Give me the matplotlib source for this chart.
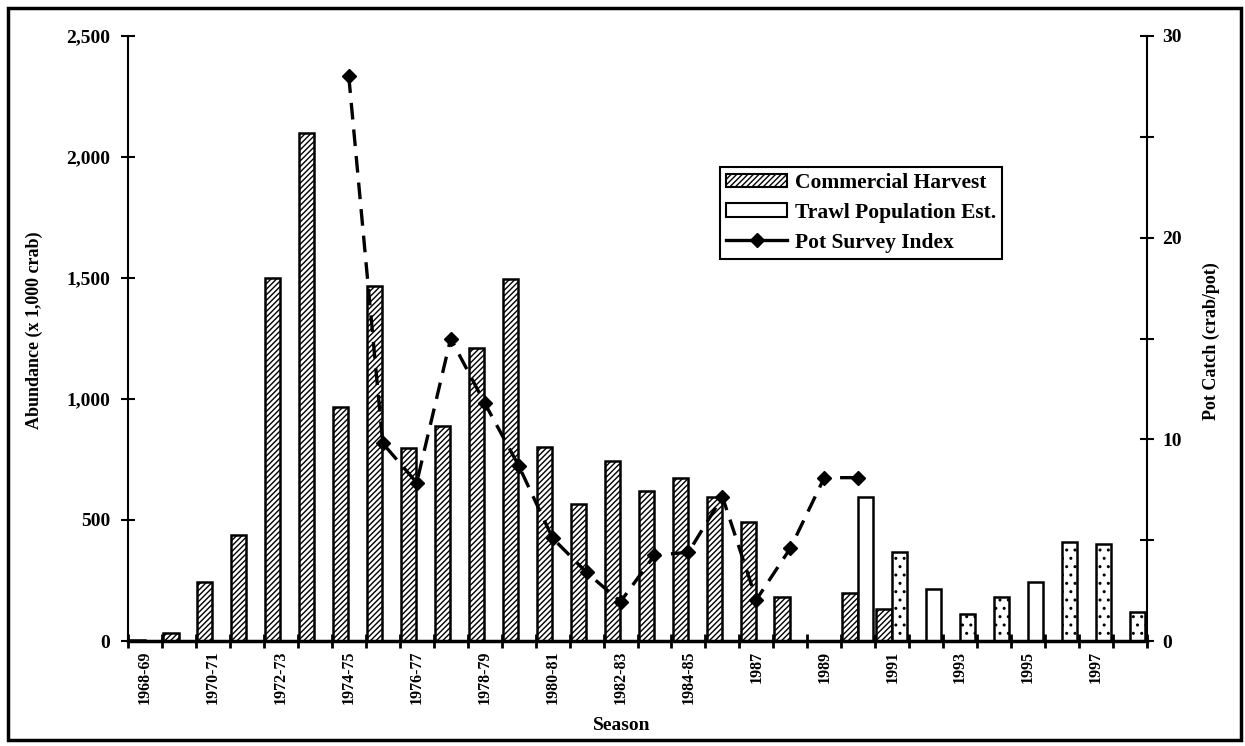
import numpy as np
import matplotlib
matplotlib.use("Agg")
import matplotlib.pyplot as plt
from matplotlib.lines import Line2D
from matplotlib.patches import Patch, Rectangle
from matplotlib.ticker import FuncFormatter

plt.rcParams['font.family'] = ['Liberation Serif', 'DejaVu Serif']
plt.rcParams['font.weight'] = 'bold'
plt.rcParams['axes.labelweight'] = 'bold'
plt.rcParams['hatch.linewidth'] = 1.0

seasons = ["1968-69", "1969-70", "1970-71", "1971-72", "1972-73", "1973-74",
           "1974-75", "1975-76", "1976-77", "1977-78", "1978-79", "1979-80",
           "1980-81", "1981-82", "1982-83", "1983-84", "1984-85", "1985-86",
           "1987", "1988", "1989", "1990", "1991", "1992", "1993", "1994",
           "1995", "1996", "1997", "1998"]

nan = np.nan
harvest = [5, 35, 245, 438, 1500, 2098, 965, 1466, 797, 889, 1210, 1497,
           802, 566, 743, 620, 672, 596, 493, 183, nan, 200, 131,
           nan, nan, nan, nan, nan, nan, nan]
trawl = [nan] * 21 + [595, 369, 215, 112, 183, 244, 409, 399, 120]
pot_index = [nan] * 6 + [28.0, 9.8, 7.85, 15.0, 11.8, 8.7, 5.1, 3.4, 1.95,
                         4.25, 4.4, 7.15, 2.05, 4.6, 8.1, 8.1] + [nan] * 8

# stippled look of some trawl bars in the scan
trawl_hatch = [''] * 21 + ['', '..', '', '..', '..', '', '..', '..', '..']

x = np.arange(len(seasons))
harvest = np.array(harvest, dtype=float)
trawl = np.array(trawl, dtype=float)
pot_index = np.array(pot_index, dtype=float)

fig = plt.figure(figsize=(12.45, 7.46), dpi=100)
ax = fig.add_axes([128 / 1245, 105 / 746, 1019 / 1245, 605 / 746])
ax2 = ax.twinx()

m = ~np.isnan(harvest)
ax.bar(x[m] - 0.24, harvest[m], width=0.455, facecolor='white',
       edgecolor='black', linewidth=1.8, hatch='//////', zorder=2)
for xi, v, h in zip(x, trawl, trawl_hatch):
    if np.isnan(v):
        continue
    ax.bar(xi + 0.22, v, width=0.455, facecolor='white', edgecolor='black',
           linewidth=1.8, hatch=h, zorder=2)

ax2.plot(x, pot_index, color='black', linewidth=2.4, dashes=(5, 3),
         marker='D', markersize=7, zorder=3)

ax.set_xlim(-0.5, len(seasons) - 0.5)
ax.set_ylim(0, 2500)
ax2.set_ylim(0, 30)

ax.set_yticks(np.arange(0, 2501, 500))
ax.yaxis.set_major_formatter(FuncFormatter(lambda v, p: f"{int(v):,}"))
ax.tick_params(axis='y', direction='inout', length=10, width=1.5,
               labelsize=14, pad=8)

ax.set_xticks(x[::2])
ax.set_xticklabels(seasons[::2], rotation=90, fontsize=11.5)
ax.set_xticks(np.arange(-0.5, len(seasons)), minor=True)
ax.tick_params(axis='x', which='major', length=0, pad=7)
ax.tick_params(axis='x', which='minor', direction='inout', length=10, width=2)

ax2.set_yticks([0, 10, 20, 30])
ax2.set_yticks([5, 15, 25], minor=True)
ax2.tick_params(axis='y', which='both', direction='inout', length=10,
                width=1.5, labelsize=14, pad=6)

for a in (ax, ax2):
    a.spines['top'].set_visible(False)
ax.spines['right'].set_visible(False)
ax2.spines['left'].set_visible(False)
ax2.spines['bottom'].set_visible(False)
ax.spines['bottom'].set_linewidth(2.5)
ax.spines['left'].set_linewidth(1.5)
ax2.spines['right'].set_linewidth(1.5)

ax.set_ylabel("Abundance (x 1,000 crab)", fontsize=13)
ax.yaxis.set_label_coords(-0.083, 0.514)
ax2.set_ylabel("Pot Catch (crab/pot)", fontsize=13)
ax2.yaxis.set_label_coords(1.055, 0.496)
ax.set_xlabel("Season", fontsize=14)
ax.xaxis.set_label_coords(0.484, -0.126)

handles = [
    Patch(facecolor='white', edgecolor='black', hatch='//////', linewidth=1.5),
    Patch(facecolor='white', edgecolor='black', linewidth=1.5),
    Line2D([], [], color='black', linewidth=2.4, marker='D', markersize=7),
]
labels = ["Commercial Harvest", "Trawl Population Est.", "Pot Survey Index"]
leg = ax2.legend(handles, labels, loc='upper left',
                 bbox_to_anchor=(0.581, 0.784), fontsize=15.5, frameon=True,
                 fancybox=False, edgecolor='black', framealpha=1,
                 handlelength=2.8, handleheight=0.6, handletextpad=0.37,
                 labelspacing=0.45, borderpad=0.3, borderaxespad=0)
leg.get_frame().set_linewidth(1.5)

fig.patches.append(Rectangle((8 / 1245, 6 / 746), 1233 / 1245, 732 / 746,
                             transform=fig.transFigure, fill=False,
                             edgecolor='black', linewidth=2.5))

fig.savefig("out.png", dpi=100)
